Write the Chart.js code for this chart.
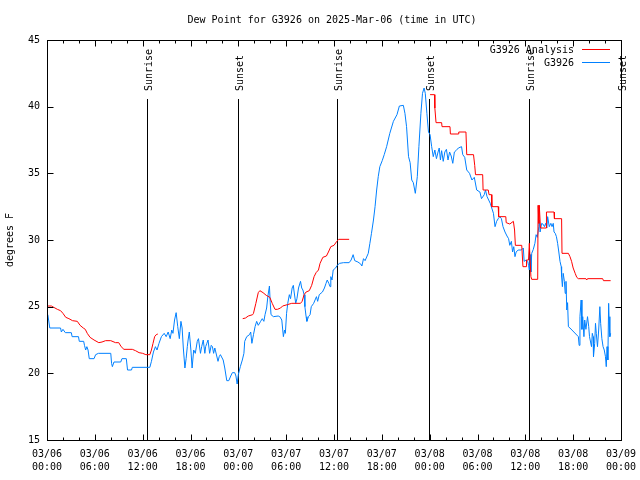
<!DOCTYPE html>
<html>
<head>
<meta charset="utf-8">
<title>Dew Point for G3926</title>
<script src="https://cdn.jsdelivr.net/npm/chart.js@4.4.1/dist/chart.umd.min.js"></script>
<style>
  html, body { margin: 0; padding: 0; background: #fff; }
  canvas { display: block; }
</style>
</head>
<body>
<canvas id="dewChart" width="640" height="480"></canvas>
<script>
// x values are hours since 03/06 00:00 UTC

// G3926 observations
const obsHours = [
  0.1, 0.35, 1.7, 1.8, 2.0, 2.3, 3.05, 3.15, 3.95, 4.05, 4.6, 4.7, 4.85, 5.0, 5.15, 5.3, 5.9, 6.1, 6.45, 8.0,
  8.1, 8.2, 8.4, 9.25, 9.4, 9.95, 10.1, 10.6, 10.7, 12.9, 13.1, 13.35, 13.6, 13.8, 14.05, 14.35, 14.7, 14.95, 15.2, 15.45,
  15.65, 15.8, 16.0, 16.2, 16.4, 16.6, 16.8, 16.95, 17.1, 17.3, 17.45, 17.6, 17.7, 17.85, 18.05, 18.2, 18.4, 18.6, 18.85, 19.0,
  19.25, 19.4, 19.6, 19.8, 19.9, 20.05, 20.2, 20.4, 20.6, 20.75, 20.9, 21.05, 21.45, 21.6, 21.75, 22.1, 22.3, 22.55, 22.8, 23.05,
  23.25, 23.55, 23.7, 23.85, 24.0, 24.25, 24.5, 24.7, 24.8, 25.05, 25.4, 25.55, 25.7, 25.9, 26.1, 26.3, 26.5, 26.8, 27.0, 27.2,
  27.35, 27.55, 27.7, 27.9, 28.0, 28.1, 28.4, 29.0, 29.2, 29.45, 29.65, 29.8, 29.9, 30.05, 30.2, 30.4, 30.55, 30.75, 30.9, 31.0,
  31.2, 31.35, 31.55, 31.8, 31.95, 32.1, 32.25, 32.35, 32.5, 32.6, 32.8, 33.0, 33.15, 33.45, 33.8, 33.95, 34.15, 34.55, 34.8, 35.0,
  35.15, 35.35, 35.5, 35.6, 35.75, 35.9, 36.2, 36.4, 36.7, 37.2, 37.9, 38.15, 38.4, 38.6, 39.0, 39.35, 39.5, 39.7, 39.9, 40.3,
  40.5, 40.7, 40.95, 41.15, 41.35, 41.55, 41.75, 42.05, 42.3, 42.6, 43.0, 43.45, 43.9, 44.2, 44.7, 44.9, 45.1, 45.35, 45.55, 45.75,
  45.95, 46.2, 46.45, 46.65, 46.9, 47.1, 47.3, 47.45, 47.65, 47.85, 48.05, 48.25, 48.45, 48.65, 48.85, 49.05, 49.2, 49.35, 49.5, 49.7,
  49.9, 50.1, 50.3, 50.5, 50.7, 50.9, 51.1, 51.3, 51.6, 52.0, 52.15, 52.4, 52.65, 53.0, 53.3, 53.6, 53.9, 54.3, 54.5, 54.85,
  55.0, 55.2, 55.6, 56.0, 56.2, 56.4, 56.6, 56.8, 57.0, 57.2, 57.45, 57.7, 57.9, 58.05, 58.25, 58.4, 58.55, 58.7, 58.85, 59.1,
  59.5, 59.75, 59.85, 60.1, 60.3, 60.4, 60.5, 60.6, 60.7, 60.8, 61.0, 61.2, 61.35, 61.5, 61.7, 61.75, 61.85, 62.05, 62.2, 62.4,
  62.55, 62.7, 62.8, 63.0, 63.2, 63.35, 63.5, 63.6, 63.75, 63.9, 64.05, 64.2, 64.35, 64.5, 64.55, 64.65, 64.75, 64.9, 65.0, 65.1,
  65.2, 65.3, 65.4, 65.6, 66.65, 66.75, 66.85, 67.0, 67.1, 67.2, 67.35, 67.45, 67.6, 67.8, 67.95, 68.05, 68.3, 68.4, 68.5, 68.55,
  68.7, 68.8, 68.9, 69.05, 69.2, 69.35, 69.45, 69.6, 69.75, 69.9, 70.05, 70.15, 70.25, 70.35, 70.45, 70.5, 70.6, 70.7
];
const obsValues = [
  24.4, 23.4, 23.4, 23.1, 23.3, 23.05, 23.05, 22.75, 22.75, 22.4, 22.4, 22.1, 21.75, 22.0, 21.75, 21.1, 21.1, 21.4, 21.5, 21.5,
  20.75, 20.5, 20.85, 20.85, 21.1, 21.1, 20.25, 20.25, 20.45, 20.45, 20.9, 21.6, 22.0, 21.75, 22.25, 22.75, 23.0, 22.75, 23.1, 22.6,
  23.25, 23.0, 24.0, 24.55, 23.5, 22.6, 23.9, 23.4, 21.9, 20.4, 21.1, 22.0, 22.5, 23.1, 21.75, 20.4, 21.75, 21.5, 22.4, 22.6,
  21.5, 22.0, 22.5, 21.5, 22.0, 22.25, 22.5, 21.5, 22.1, 22.0, 21.5, 21.9, 20.9, 21.25, 21.4, 21.0, 20.4, 19.45, 19.45, 19.8,
  20.05, 20.05, 19.8, 19.2, 19.9, 20.5, 21.0, 21.5, 22.4, 22.75, 22.9, 23.1, 22.25, 22.9, 23.5, 23.9, 23.6, 23.9, 24.1, 23.9,
  24.4, 24.9, 25.75, 26.55, 25.3, 24.4, 24.25, 24.3, 24.25, 24.0, 22.75, 23.25, 23.0, 24.5, 25.25, 25.9, 25.6, 26.4, 26.6, 26.1,
  25.25, 25.6, 26.4, 26.9, 26.4, 26.25, 25.9, 25.0, 24.25, 23.9, 24.25, 24.4, 25.0, 25.25, 25.75, 25.4, 25.9, 26.1, 26.4, 26.75,
  27.0, 26.75, 26.5, 27.25, 27.0, 27.75, 27.9, 28.1, 28.25, 28.3, 28.3, 28.5, 28.9, 28.45, 28.35, 28.2, 28.05, 28.6, 28.45, 29.0,
  29.75, 30.5, 31.5, 32.5, 33.75, 34.75, 35.5, 35.95, 36.4, 37.0, 38.0, 38.9, 39.4, 40.05, 40.1, 39.5, 38.5, 36.25, 35.8, 34.5,
  34.3, 33.5, 34.75, 37.0, 39.5, 41.0, 41.4, 41.0, 39.5, 38.1, 37.9, 37.0, 36.25, 36.75, 36.1, 36.6, 36.9, 36.0, 36.7, 35.9,
  36.6, 36.8, 36.0, 36.6, 36.3, 35.75, 36.6, 36.7, 36.9, 37.0, 36.4, 36.2, 35.25, 35.0, 34.5, 34.7, 33.75, 33.6, 33.1, 33.4,
  33.75, 33.25, 32.75, 32.0, 31.0, 31.4, 31.6, 31.75, 31.6, 31.0, 30.6, 30.3, 30.1, 29.6, 29.9, 29.1, 29.5, 28.75, 29.1, 29.25,
  29.25, 29.4, 28.4, 28.5, 28.4, 28.1, 27.75, 28.9, 27.6, 29.0, 29.3, 29.75, 30.4, 30.2, 31.0, 31.5, 30.6, 31.25, 31.2, 31.0,
  31.25, 30.9, 31.75, 31.0, 31.25, 31.0, 31.25, 30.6, 30.5, 30.25, 29.75, 29.1, 28.4, 28.0, 27.25, 26.5, 27.5, 26.9, 26.0, 26.9,
  24.75, 25.3, 23.5, 23.4, 22.75, 22.1, 24.25, 25.5, 23.3, 24.25, 22.75, 24.0, 23.3, 24.25, 23.5, 22.75, 22.0, 23.0, 22.75, 21.25,
  22.25, 23.75, 23.0, 22.0, 23.25, 25.0, 23.75, 22.6, 22.0, 21.75, 21.25, 20.5, 22.0, 21.0, 25.25, 24.25, 22.75, 23.0
];

// G3926 Analysis (null marks a gap in the record)
const anaHours = [
  0, 0.55, 0.85, 1.3, 1.7, 2.0, 2.35, 2.75, 3.2, 3.8, 4.15, 4.55, 4.8, 5.05, 5.4, 5.9, 6.5, 6.9, 7.35, 8.0,
  8.6, 9.0, 9.3, 9.65, 10.7, 11.1, 11.55, 12.0, 12.4, 12.9, 13.1, 13.3, 13.5, 13.7, 13.9, 14.0,
  24.55, 24.9, 25.25, 25.8, 25.9, 26.2, 26.5, 26.7, 27.1, 27.5, 27.95, 28.25, 28.6, 28.9, 29.3, 29.55, 30.15, 30.7, 31.8, 32.0,
  32.25, 32.5, 32.9, 33.2, 33.5, 33.75, 34.05, 34.25, 34.6, 35.05, 35.3, 35.6, 36.0, 36.35, 36.6, 37.9, 40.0,
  48.05, 48.6, 48.65, 48.8, 49.5, 49.55, 50.55, 50.6, 51.6, 51.65, 52.55, 52.65, 53.5, 53.65, 53.75, 54.65, 54.7, 55.35, 55.45, 55.75,
  55.8, 56.6, 56.65, 57.55, 57.6, 58.05, 58.5, 58.65, 58.75, 59.55, 59.7, 60.1, 60.15, 60.4, 60.5, 60.7, 60.8, 61.55, 61.6, 61.7,
  61.75, 61.9, 62.6, 62.65, 63.6, 63.65, 64.55, 64.6, 65.4, 65.6, 65.8, 66.0, 66.25, 66.45, 66.65, 67.6, 67.7, 67.8, 69.7, 69.8,
  70.7
];
const anaValues = [
  25.05, 25.05, 24.95, 24.8, 24.7, 24.5, 24.2, 24.1, 23.95, 23.9, 23.6, 23.4, 23.3, 23.0, 22.7, 22.5, 22.3, 22.35, 22.45, 22.45,
  22.3, 22.3, 22.0, 21.8, 21.8, 21.7, 21.55, 21.5, 21.4, 21.4, 21.75, 22.25, 22.75, 22.9, 22.95, null,
  24.1, 24.15, 24.3, 24.4, 24.5, 25.25, 26.05, 26.2, 26.05, 25.85, 25.7, 25.25, 24.8, 24.8, 24.9, 25.05, 25.15, 25.25, 25.25, 25.4,
  25.9, 26.1, 26.2, 26.6, 27.25, 27.55, 27.75, 28.25, 28.7, 28.8, 29.1, 29.5, 29.6, 29.9, 30.05, 30.05, null,
  40.9, 40.9, 39.9, 38.8, 38.8, 38.5, 38.5, 37.95, 37.95, 38.1, 38.1, 36.4, 36.4, 35.6, 34.9, 34.9, 33.75, 33.75, 33.4, 33.4,
  32.5, 32.5, 31.75, 31.75, 31.3, 31.2, 31.4, 30.75, 29.6, 29.6, 28.0, 28.0, 28.5, 28.5, 29.75, 27.25, 27.05, 27.05, 32.6, 31.25,
  32.6, 30.9, 30.9, 32.1, 32.1, 31.6, 31.6, 29.0, 29.0, 28.75, 28.4, 27.9, 27.5, 27.2, 27.1, 27.1, 27.0, 27.1, 27.1, 26.95,
  26.95
];

// axis ticks
const xTickHours = [0, 6, 12, 18, 24, 30, 36, 42, 48, 54, 60, 66, 72];
const xTickLabels = [
  ["03/06", "00:00"], ["03/06", "06:00"], ["03/06", "12:00"], ["03/06", "18:00"],
  ["03/07", "00:00"], ["03/07", "06:00"], ["03/07", "12:00"], ["03/07", "18:00"],
  ["03/08", "00:00"], ["03/08", "06:00"], ["03/08", "12:00"], ["03/08", "18:00"],
  ["03/09", "00:00"]
];
const yTickValues = [15, 20, 25, 30, 35, 40, 45];

// sunrise / sunset markers
const sunHours = [12.5, 23.9, 36.43, 47.97, 60.5, 72];
const sunLabels = ["Sunrise", "Sunset", "Sunrise", "Sunset", "Sunrise", "Sunset"];

const FONT_FAMILY = "'DejaVu Sans Mono', 'Liberation Mono', monospace";
const FONT = "10px " + FONT_FAMILY;
const RED = "#ff0000";
const BLUE = "#0080ff";

function toPoints(xs, ys) {
  return xs.map((h, i) => ({ x: h, y: ys[i] }));
}

// gnuplot style frame, inward ticks, sun markers, title and legend
const gnuplotDecor = {
  id: "gnuplotDecor",
  beforeDatasetsDraw(chart) {
    const { ctx, chartArea: a, scales: { x, y } } = chart;
    ctx.save();
    ctx.strokeStyle = "#000";
    ctx.fillStyle = "#000";
    ctx.lineWidth = 1;
    ctx.font = FONT;
    const lineTop = Math.round(y.getPixelForValue(40.55));
    sunHours.forEach((h, i) => {
      const px = Math.round(x.getPixelForValue(h)) + 0.5;
      ctx.beginPath();
      ctx.moveTo(px, a.bottom);
      ctx.lineTo(px, lineTop);
      ctx.stroke();
      ctx.save();
      ctx.translate(px + 2, lineTop - 8);
      ctx.rotate(-Math.PI / 2);
      ctx.textAlign = "left";
      ctx.textBaseline = "middle";
      ctx.fillText(sunLabels[i], 0, 0);
      ctx.restore();
    });
    ctx.restore();
  },
  afterDatasetsDraw(chart) {
    const { ctx, chartArea: a, scales: { x, y } } = chart;
    const left = Math.round(a.left) + 0.5, right = Math.round(a.right) + 0.5;
    const top = Math.round(a.top) + 0.5, bottom = Math.round(a.bottom) + 0.5;
    ctx.save();
    ctx.strokeStyle = "#000";
    ctx.lineWidth = 1;
    ctx.beginPath();
    // minor x ticks every 2 hours, major every 6
    for (let h = x.min; h <= x.max; h += 2) {
      const px = Math.round(x.getPixelForValue(h)) + 0.5;
      const len = (h % 6 === 0) ? 6 : 3;
      ctx.moveTo(px, bottom); ctx.lineTo(px, bottom - len);
      ctx.moveTo(px, top); ctx.lineTo(px, top + len);
    }
    yTickValues.forEach(v => {
      const py = Math.round(y.getPixelForValue(v)) + 0.5;
      ctx.moveTo(left, py); ctx.lineTo(left + 6, py);
      ctx.moveTo(right, py); ctx.lineTo(right - 6, py);
    });
    ctx.stroke();
    ctx.strokeRect(left, top, right - left, bottom - top);
    ctx.restore();
  },
  afterDraw(chart) {
    const { ctx, chartArea: a } = chart;
    ctx.save();
    ctx.font = FONT;
    ctx.fillStyle = "#000";
    ctx.textBaseline = "middle";
    ctx.textAlign = "center";
    ctx.fillText("Dew Point for G3926 on 2025-Mar-06 (time in UTC)", (a.left + a.right) / 2 - 2, 20);
    // legend, top right inside the plot
    const rows = [chart.data.datasets[0], chart.data.datasets[1]];
    rows.forEach((ds, i) => {
      const yy = 49.5 + i * 13;
      ctx.textAlign = "right";
      ctx.fillStyle = "#000";
      ctx.fillText(ds.label, a.right - 47, yy + 0.5);
      ctx.strokeStyle = ds.borderColor;
      ctx.lineWidth = 1;
      ctx.beginPath();
      ctx.moveTo(a.right - 39, yy);
      ctx.lineTo(a.right - 11, yy);
      ctx.stroke();
    });
    ctx.restore();
  }
};

new Chart(document.getElementById("dewChart"), {
  type: "line",
  data: {
    datasets: [
      {
        label: "G3926 Analysis",
        data: toPoints(anaHours, anaValues),
        borderColor: RED,
        borderWidth: 1,
        pointRadius: 0,
        tension: 0,
        spanGaps: false
      },
      {
        label: "G3926",
        data: toPoints(obsHours, obsValues),
        borderColor: BLUE,
        borderWidth: 1,
        pointRadius: 0,
        tension: 0
      }
    ]
  },
  options: {
    responsive: false,
    animation: false,
    devicePixelRatio: 1,
    layout: { padding: { left: 0, top: 40, right: 19, bottom: 0 } },
    plugins: {
      legend: { display: false },
      title: { display: false },
      tooltip: { enabled: false }
    },
    scales: {
      x: {
        type: "linear",
        min: 0,
        max: 72,
        grid: { display: false, drawTicks: false, tickLength: 0 },
        border: { display: false },
        afterBuildTicks: s => { s.ticks = xTickHours.map(v => ({ value: v })); },
        afterFit: s => {
          s.height = 40;
          s.paddingLeft = 0;
          s.paddingRight = 0;
        },
        ticks: {
          autoSkip: false,
          maxRotation: 0,
          padding: 8,
          color: "#000",
          font: { family: FONT_FAMILY, size: 10, lineHeight: 1.27 },
          callback: v => {
            const i = xTickHours.indexOf(v);
            return i >= 0 ? xTickLabels[i] : "";
          }
        }
      },
      y: {
        min: 15,
        max: 45,
        grid: { display: false, drawTicks: false, tickLength: 0 },
        border: { display: false },
        afterBuildTicks: s => { s.ticks = yTickValues.map(v => ({ value: v })); },
        afterFit: s => {
          s.width = 47;
          s.paddingTop = 0;
          s.paddingBottom = 0;
        },
        title: {
          display: true,
          text: "degrees F",
          color: "#000",
          font: { family: FONT_FAMILY, size: 10, lineHeight: 1.2 },
          padding: { top: 4, bottom: 0 }
        },
        ticks: {
          padding: 7,
          color: "#000",
          font: { family: FONT_FAMILY, size: 10 }
        }
      }
    }
  },
  plugins: [gnuplotDecor]
});
</script>
</body>
</html>
